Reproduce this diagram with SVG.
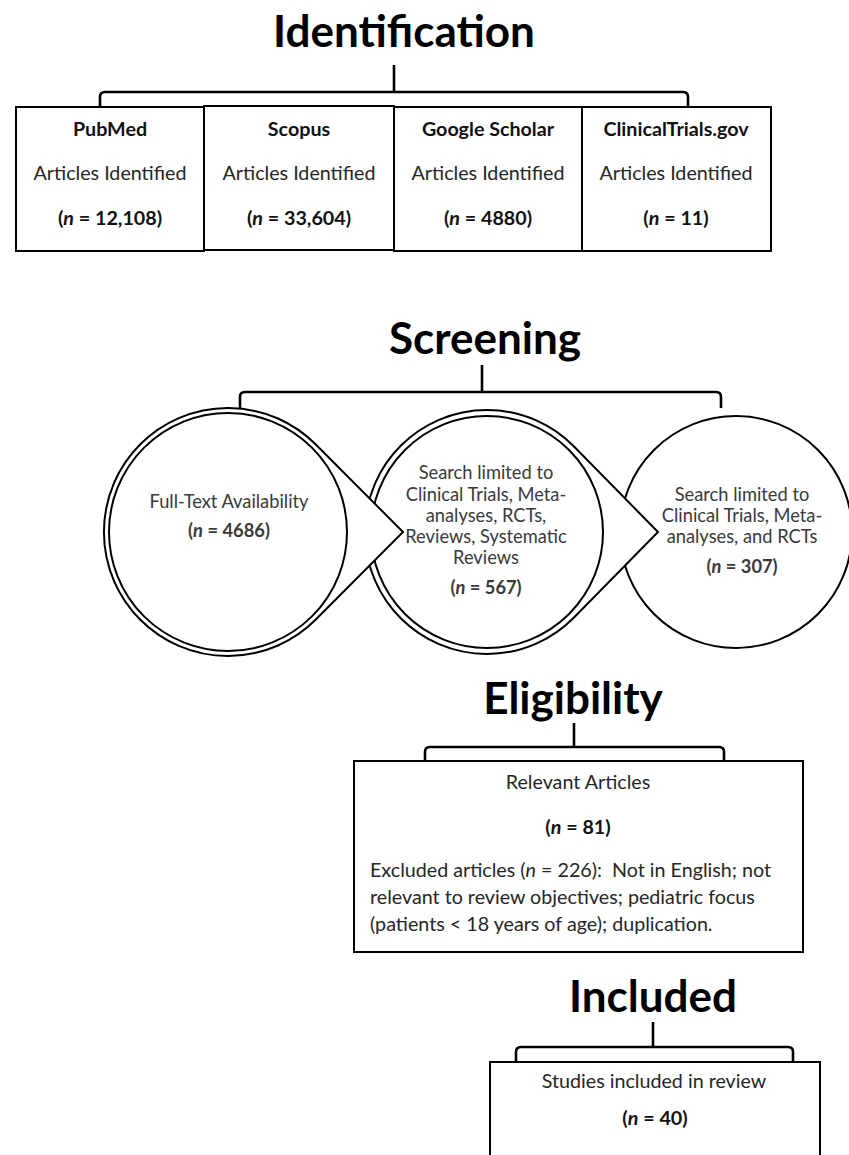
<svg xmlns="http://www.w3.org/2000/svg" width="849" height="1155" viewBox="0 0 849 1155">
<style>
.title{font-family:Lato,"Liberation Sans",sans-serif;font-weight:bold;font-size:44px;fill:#000;text-anchor:middle}
.t{font-family:Lato,"Liberation Sans",sans-serif;font-size:19.7px;fill:#262626;text-anchor:middle}
.b{font-weight:bold;fill:#111}
.c{font-family:Lato,"Liberation Sans",sans-serif;font-size:18.3px;fill:#3a3a3a;text-anchor:middle}
.l{font-family:Lato,"Liberation Sans",sans-serif;font-size:19.7px;fill:#262626}
.box{fill:#fff;stroke:#000;stroke-width:2}
.brk{fill:none;stroke:#000;stroke-width:2.6}
.ring{fill:#fff;stroke:#000;stroke-width:2}
.inner{fill:none;stroke:#000;stroke-width:2}
</style>
<rect width="849" height="1155" fill="#fff"/>

<g id="connectors">
  <path class="brk" d="M394 65 L394 92 M100 107 L100 97 Q100 92 105 92 L683 92 Q688 92 688 97 L688 107"/>
  <path class="brk" d="M482 365 L482 392 M240 408 L240 397 Q240 392 245 392 L716 392 Q721 392 721 397 L721 408"/>
  <path class="brk" d="M574 723 L574 747 M425 761 L425 752 Q425 747 430 747 L719 747 Q724 747 724 752 L724 761"/>
  <path class="brk" d="M653 1022 L653 1047 M516 1062 L516 1052 Q516 1047 521 1047 L788 1047 Q793 1047 793 1052 L793 1062"/>
</g>

<g id="title-identification"><text class="title" x="404" y="47">Identification</text></g>

<g id="node-pubmed">
  <rect class="box" x="16" y="107" width="188" height="144"/>
  <text class="t b" x="110" y="136">PubMed</text>
  <text class="t" x="110" y="180">Articles Identified</text>
  <text class="t b" x="110" y="225">(<tspan font-style="italic">n</tspan> = 12,108)</text>
</g>
<g id="node-scopus">
  <rect class="box" x="204" y="106" width="190" height="144"/>
  <text class="t b" x="299" y="136">Scopus</text>
  <text class="t" x="299" y="180">Articles Identified</text>
  <text class="t b" x="299" y="225">(<tspan font-style="italic">n</tspan> = 33,604)</text>
</g>
<g id="node-google">
  <rect class="box" x="394" y="107" width="188" height="144"/>
  <text class="t b" x="488" y="136">Google Scholar</text>
  <text class="t" x="488" y="180">Articles Identified</text>
  <text class="t b" x="488" y="225">(<tspan font-style="italic">n</tspan> = 4880)</text>
</g>
<g id="node-clinicaltrials">
  <rect class="box" x="582" y="107" width="189" height="144"/>
  <text class="t b" x="676" y="136">ClinicalTrials.gov</text>
  <text class="t" x="676" y="180">Articles Identified</text>
  <text class="t b" x="676" y="225">(<tspan font-style="italic">n</tspan> = 11)</text>
</g>

<g id="title-screening"><text class="title" x="485" y="354">Screening</text></g>

<g id="node-limited-rcts">
  <circle class="ring" cx="736" cy="532" r="116"/>
  <text class="c" x="742" y="501">Search limited to</text>
  <text class="c" x="742" y="522">Clinical Trials, Meta-</text>
  <text class="c" x="742" y="543">analyses, and RCTs</text>
  <text class="c b" x="742" y="573">(<tspan font-style="italic">n</tspan> = 307)</text>
</g>
<g id="node-limited-reviews">
  <path class="ring" d="M658 532 L574 446.5 A122 122 0 1 0 574 617.5 Z"/>
  <circle class="inner" cx="487" cy="532" r="116"/>
  <text class="c" x="486" y="479">Search limited to</text>
  <text class="c" x="486" y="501">Clinical Trials, Meta-</text>
  <text class="c" x="486" y="522">analyses, RCTs,</text>
  <text class="c" x="486" y="543">Reviews, Systematic</text>
  <text class="c" x="486" y="564">Reviews</text>
  <text class="c b" x="486" y="594">(<tspan font-style="italic">n</tspan> = 567)</text>
</g>
<g id="node-fulltext">
  <path class="ring" d="M403 532 L315.8 444.5 A124 124 0 1 0 315.8 619.5 Z"/>
  <circle class="inner" cx="228" cy="532" r="119"/>
  <text class="c" x="229" y="508">Full-Text Availability</text>
  <text class="c b" x="229" y="537">(<tspan font-style="italic">n</tspan> = 4686)</text>
</g>

<g id="title-eligibility"><text class="title" x="573" y="714">Eligibility</text></g>

<g id="node-relevant">
  <rect class="box" x="354" y="761" width="449" height="191"/>
  <text class="t" x="578" y="789">Relevant Articles</text>
  <text class="t b" x="578" y="834">(<tspan font-style="italic">n</tspan> = 81)</text>
  <text class="l" x="370" y="877" xml:space="preserve">Excluded articles (<tspan font-style="italic">n</tspan> = 226):  Not in English; not</text>
  <text class="l" x="370" y="904">relevant to review objectives; pediatric focus</text>
  <text class="l" x="370" y="931">(patients &lt; 18 years of age); duplication.</text>
</g>

<g id="title-included"><text class="title" x="653" y="1012">Included</text></g>

<g id="node-included">
  <rect class="box" x="490" y="1062" width="330" height="110"/>
  <text class="t" x="654" y="1088">Studies included in review</text>
  <text class="t b" x="655" y="1125">(<tspan font-style="italic">n</tspan> = 40)</text>
</g>
</svg>
